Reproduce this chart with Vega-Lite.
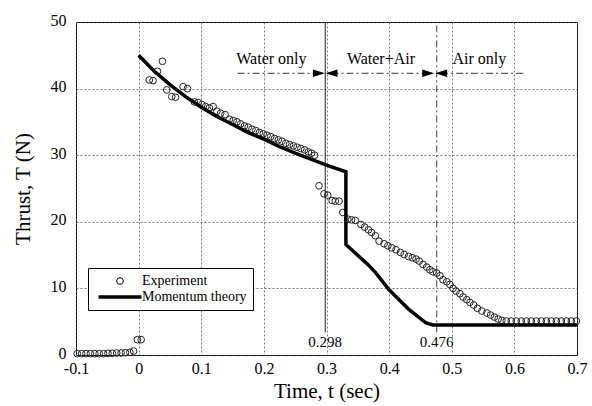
{
  "$schema": "https://vega.github.io/schema/vega-lite/v6.json",
  "width": 501,
  "height": 333,
  "autosize": {"type": "none"},
  "padding": {"left": 76, "top": 22, "right": 15, "bottom": 51},
  "background": "white",
  "config": {
    "view": {"stroke": "black", "strokeWidth": 1},
    "font": "Liberation Serif",
    "axis": {
      "domain": false,
      "ticks": false,
      "grid": true,
      "gridColor": "#555",
      "gridDash": [2, 2],
      "gridWidth": 0.8,
      "labelFont": "Liberation Serif",
      "labelFontSize": 16,
      "labelColor": "black",
      "labelFlush": false,
      "labelOverlap": false,
      "titleFont": "Liberation Serif",
      "titleFontSize": 21,
      "titleFontWeight": "normal",
      "titleColor": "black"
    }
  },
  "datasets": {
    "exp": [
      {"t": -0.098, "T": 0.2}, {"t": -0.091, "T": 0.2}, {"t": -0.084, "T": 0.2}, {"t": -0.077, "T": 0.2},
      {"t": -0.070, "T": 0.2}, {"t": -0.063, "T": 0.2}, {"t": -0.056, "T": 0.2}, {"t": -0.049, "T": 0.25},
      {"t": -0.042, "T": 0.25}, {"t": -0.035, "T": 0.3}, {"t": -0.028, "T": 0.3}, {"t": -0.021, "T": 0.35},
      {"t": -0.014, "T": 0.4}, {"t": -0.008, "T": 0.6}, {"t": -0.002, "T": 2.3}, {"t": 0.004, "T": 2.3},
      {"t": 0.017, "T": 41.3}, {"t": 0.023, "T": 41.2}, {"t": 0.030, "T": 42.6}, {"t": 0.038, "T": 44.1},
      {"t": 0.045, "T": 39.8}, {"t": 0.053, "T": 38.8}, {"t": 0.059, "T": 38.7}, {"t": 0.071, "T": 40.3},
      {"t": 0.078, "T": 40.0}, {"t": 0.089, "T": 38.0}, {"t": 0.095, "T": 37.9}, {"t": 0.101, "T": 37.6},
      {"t": 0.107, "T": 37.3}, {"t": 0.113, "T": 37.1}, {"t": 0.119, "T": 37.3}, {"t": 0.125, "T": 36.6},
      {"t": 0.131, "T": 36.3}, {"t": 0.138, "T": 36.1}, {"t": 0.145, "T": 35.4}, {"t": 0.151, "T": 35.2},
      {"t": 0.157, "T": 35.0}, {"t": 0.163, "T": 34.7}, {"t": 0.169, "T": 34.4}, {"t": 0.175, "T": 34.2},
      {"t": 0.181, "T": 33.9}, {"t": 0.187, "T": 33.7}, {"t": 0.193, "T": 33.4}, {"t": 0.199, "T": 33.2},
      {"t": 0.205, "T": 33.0}, {"t": 0.211, "T": 32.8}, {"t": 0.217, "T": 32.5}, {"t": 0.223, "T": 32.3},
      {"t": 0.229, "T": 32.1}, {"t": 0.235, "T": 31.8}, {"t": 0.241, "T": 31.6}, {"t": 0.247, "T": 31.4},
      {"t": 0.253, "T": 31.2}, {"t": 0.259, "T": 31.0}, {"t": 0.265, "T": 30.8}, {"t": 0.271, "T": 30.5},
      {"t": 0.276, "T": 30.3}, {"t": 0.281, "T": 30.0},
      {"t": 0.288, "T": 25.4}, {"t": 0.296, "T": 24.2}, {"t": 0.302, "T": 24.0}, {"t": 0.309, "T": 23.2},
      {"t": 0.314, "T": 23.1}, {"t": 0.320, "T": 23.1}, {"t": 0.326, "T": 21.4}, {"t": 0.334, "T": 20.4},
      {"t": 0.340, "T": 20.3}, {"t": 0.346, "T": 20.2}, {"t": 0.355, "T": 19.6}, {"t": 0.361, "T": 19.2},
      {"t": 0.367, "T": 18.8}, {"t": 0.372, "T": 18.4}, {"t": 0.378, "T": 17.9}, {"t": 0.384, "T": 17.1},
      {"t": 0.392, "T": 16.7}, {"t": 0.398, "T": 16.4}, {"t": 0.404, "T": 16.1}, {"t": 0.411, "T": 15.8},
      {"t": 0.418, "T": 15.4}, {"t": 0.424, "T": 15.1}, {"t": 0.431, "T": 14.8}, {"t": 0.437, "T": 14.6},
      {"t": 0.443, "T": 14.4}, {"t": 0.448, "T": 14.1}, {"t": 0.454, "T": 13.6}, {"t": 0.460, "T": 13.2},
      {"t": 0.465, "T": 12.8}, {"t": 0.470, "T": 12.5}, {"t": 0.476, "T": 12.3}, {"t": 0.481, "T": 11.9},
      {"t": 0.486, "T": 11.3}, {"t": 0.492, "T": 11.0}, {"t": 0.497, "T": 10.6}, {"t": 0.502, "T": 10.0},
      {"t": 0.507, "T": 9.6}, {"t": 0.513, "T": 9.2}, {"t": 0.518, "T": 8.7}, {"t": 0.524, "T": 8.3},
      {"t": 0.529, "T": 7.9}, {"t": 0.535, "T": 7.5}, {"t": 0.541, "T": 7.0}, {"t": 0.548, "T": 6.6},
      {"t": 0.556, "T": 6.3}, {"t": 0.562, "T": 6.0}, {"t": 0.568, "T": 5.7}, {"t": 0.574, "T": 5.4},
      {"t": 0.580, "T": 5.2}, {"t": 0.587, "T": 5.1}, {"t": 0.595, "T": 5.1}, {"t": 0.603, "T": 5.1},
      {"t": 0.611, "T": 5.1}, {"t": 0.619, "T": 5.1}, {"t": 0.627, "T": 5.1}, {"t": 0.635, "T": 5.1},
      {"t": 0.643, "T": 5.1}, {"t": 0.651, "T": 5.1}, {"t": 0.659, "T": 5.1}, {"t": 0.667, "T": 5.1},
      {"t": 0.675, "T": 5.1}, {"t": 0.683, "T": 5.1}, {"t": 0.691, "T": 5.1}, {"t": 0.699, "T": 5.1}
    ],
    "theory": [
      {"t": 0, "T": 45, "o": 1}, {"t": 0.025, "T": 42.6, "o": 2}, {"t": 0.05, "T": 40.6, "o": 3},
      {"t": 0.075, "T": 38.8, "o": 4}, {"t": 0.1, "T": 37.2, "o": 5}, {"t": 0.125, "T": 35.8, "o": 6},
      {"t": 0.15, "T": 34.6, "o": 7}, {"t": 0.175, "T": 33.4, "o": 8}, {"t": 0.2, "T": 32.4, "o": 9},
      {"t": 0.225, "T": 31.3, "o": 10}, {"t": 0.25, "T": 30.3, "o": 11}, {"t": 0.275, "T": 29.4, "o": 12},
      {"t": 0.3, "T": 28.5, "o": 13}, {"t": 0.331, "T": 27.5, "o": 14}, {"t": 0.331, "T": 16.6, "o": 15},
      {"t": 0.352, "T": 14.8, "o": 16}, {"t": 0.366, "T": 13.6, "o": 17}, {"t": 0.379, "T": 12.3, "o": 18},
      {"t": 0.4, "T": 9.8, "o": 19}, {"t": 0.432, "T": 6.8, "o": 20}, {"t": 0.459, "T": 4.8, "o": 21},
      {"t": 0.47, "T": 4.5, "o": 22}, {"t": 0.7, "T": 4.5, "o": 23}
    ],
    "hlines": [
      {"t": 0.158, "t2": 0.289, "T": 42.3},
      {"t": 0.308, "t2": 0.462, "T": 42.3},
      {"t": 0.483, "t2": 0.615, "T": 42.3}
    ],
    "arrowsRight": [{"t": 0.288, "T": 42.3}, {"t": 0.4625, "T": 42.3}],
    "arrowsLeft": [{"t": 0.308, "T": 42.3}, {"t": 0.483, "T": 42.3}],
    "vsolid": [{"t": 0.298, "T": 3.4, "T2": 50}],
    "vdash": [{"t": 0.476, "T": 3.4, "T2": 50}],
    "regions": [
      {"t": 0.212, "T": 44.4, "text": "Water only"},
      {"t": 0.387, "T": 44.4, "text": "Water+Air"},
      {"t": 0.544, "T": 44.4, "text": "Air only"}
    ],
    "marks": [
      {"t": 0.298, "T": 1.9, "text": "0.298"},
      {"t": 0.476, "T": 1.9, "text": "0.476"}
    ]
  },
  "layer": [
    {
      "data": {"name": "vsolid"},
      "mark": {"type": "rule", "color": "#222", "strokeWidth": 1},
      "encoding": {
        "x": {"field": "t", "type": "quantitative"},
        "y": {"field": "T", "type": "quantitative"},
        "y2": {"field": "T2"}
      }
    },
    {
      "data": {"name": "vdash"},
      "mark": {"type": "rule", "color": "#444", "strokeWidth": 1, "strokeDash": [7, 3, 2, 3]},
      "encoding": {
        "x": {"field": "t", "type": "quantitative"},
        "y": {"field": "T", "type": "quantitative"},
        "y2": {"field": "T2"}
      }
    },
    {
      "data": {"name": "hlines"},
      "mark": {"type": "rule", "color": "#333", "strokeWidth": 1, "strokeDash": [7, 3, 2, 3]},
      "encoding": {
        "x": {"field": "t", "type": "quantitative"},
        "x2": {"field": "t2"},
        "y": {"field": "T", "type": "quantitative"}
      }
    },
    {
      "data": {"name": "exp"},
      "transform": [{"calculate": "'Experiment'", "as": "series"}],
      "mark": {"type": "point", "filled": false, "color": "#222", "size": 45, "opacity": 1},
      "encoding": {
        "x": {
          "field": "t", "type": "quantitative",
          "scale": {"domain": [-0.1, 0.7], "nice": false, "zero": false},
          "axis": {
            "title": "Time, t (sec)",
            "values": [-0.1, 0, 0.1, 0.2, 0.3, 0.4, 0.5, 0.6, 0.7],
            "labelExpr": "datum.value == 0 ? '0' : (datum.value < 0 ? '-' + format(-datum.value, '.1f') : format(datum.value, '.1f'))",
            "labelFlush": false,
            "labelPadding": 5,
            "titlePadding": 4
          }
        },
        "y": {
          "field": "T", "type": "quantitative",
          "scale": {"domain": [0, 50], "nice": false},
          "axis": {
            "title": "Thrust, T (N)",
            "values": [0, 10, 20, 30, 40, 50],
            "labelFlush": false,
            "labelOffset": -2,
            "labelPadding": 10,
            "titlePadding": 17
          }
        },
        "shape": {
          "field": "series", "type": "nominal",
          "scale": {"domain": ["Experiment", "Momentum theory"], "range": ["circle", "M-6.4,0H6.4"]},
          "legend": {
            "title": null,
            "orient": "none",
            "legendX": 12,
            "legendY": 246,
            "fillColor": "white",
            "strokeColor": "black",
            "padding": 6,
            "labelFont": "Liberation Serif",
            "labelFontSize": 14,
            "labelColor": "black",
            "symbolSize": 45,
            "symbolStrokeColor": "black",
            "symbolOffset": 19,
            "labelOffset": 15,
            "rowPadding": 2
          }
        },
        "strokeWidth": {
          "field": "series", "type": "nominal",
          "scale": {"domain": ["Experiment", "Momentum theory"], "range": [1, 3.5]}
        }
      }
    },
    {
      "data": {"name": "theory"},
      "transform": [{"calculate": "'Momentum theory'", "as": "series"}],
      "mark": {"type": "line", "color": "black", "strokeJoin": "miter"},
      "encoding": {
        "x": {"field": "t", "type": "quantitative"},
        "y": {"field": "T", "type": "quantitative"},
        "order": {"field": "o", "type": "quantitative"},
        "strokeWidth": {
          "field": "series", "type": "nominal",
          "scale": {"domain": ["Experiment", "Momentum theory"], "range": [1, 3.5]}
        }
      }
    },
    {
      "data": {"name": "arrowsRight"},
      "mark": {"type": "point", "shape": "M-1,-0.62L1,0L-1,0.62Z", "size": 144, "filled": true, "color": "black", "opacity": 1},
      "encoding": {
        "x": {"field": "t", "type": "quantitative"},
        "y": {"field": "T", "type": "quantitative"}
      }
    },
    {
      "data": {"name": "arrowsLeft"},
      "mark": {"type": "point", "shape": "M1,-0.62L-1,0L1,0.62Z", "size": 144, "filled": true, "color": "black", "opacity": 1},
      "encoding": {
        "x": {"field": "t", "type": "quantitative"},
        "y": {"field": "T", "type": "quantitative"}
      }
    },
    {
      "data": {"name": "regions"},
      "mark": {"type": "text", "font": "Liberation Serif", "fontSize": 16, "color": "black", "baseline": "middle", "align": "center"},
      "encoding": {
        "x": {"field": "t", "type": "quantitative"},
        "y": {"field": "T", "type": "quantitative"},
        "text": {"field": "text"}
      }
    },
    {
      "data": {"name": "marks"},
      "mark": {"type": "text", "font": "Liberation Serif", "fontSize": 15, "color": "black", "baseline": "middle", "align": "center"},
      "encoding": {
        "x": {"field": "t", "type": "quantitative"},
        "y": {"field": "T", "type": "quantitative"},
        "text": {"field": "text"}
      }
    }
  ]
}
